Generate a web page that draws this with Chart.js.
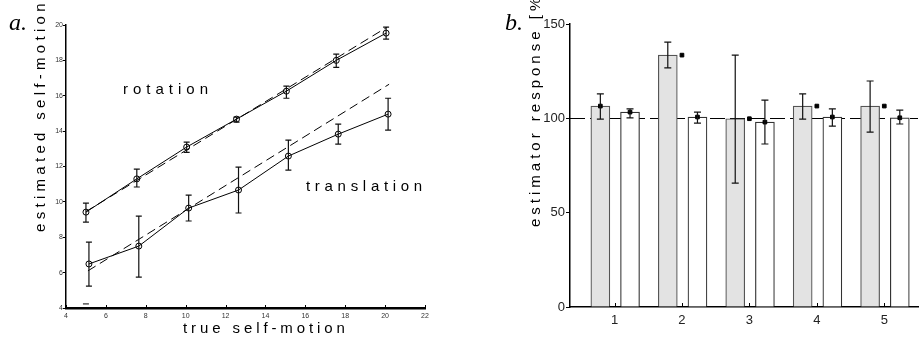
<!DOCTYPE html>
<html>
<head>
<meta charset="utf-8">
<script src="https://cdn.jsdelivr.net/npm/chart.js@4/dist/chart.umd.min.js"></script>
<style>
  html, body { margin: 0; padding: 0; background: #fff; width: 923px; height: 340px; overflow: hidden; }
  #chartA { position: absolute; left: 0; top: 0; }
  #chartB { position: absolute; left: 460px; top: 0; }
</style>
</head>
<body>
<canvas id="chartA" width="460" height="340"></canvas>
<canvas id="chartB" width="463" height="340"></canvas>
<script>
// =====================================================
//  DATA — panel a (estimated vs true self-motion)
// =====================================================
const rotX    = [5.0, 7.55, 10.05, 12.55, 15.05, 17.55, 20.05];
const rotMean = [9.42, 11.3, 13.1, 14.68, 16.26, 18.0, 19.54];
const rotLo   = [8.86, 10.84, 12.8, 14.51, 15.86, 17.6, 19.2];
const rotHi   = [9.93, 11.85, 13.38, 14.79, 16.54, 18.35, 19.88];
const rotFitX = [5.0, 20.1];
const rotFitY = [9.45, 19.88];

const trX     = [5.15, 7.65, 10.15, 12.65, 15.15, 17.65, 20.15];
const trMean  = [6.49, 7.5, 9.65, 10.67, 12.59, 13.83, 14.96];
const trLo    = [5.24, 5.75, 8.92, 9.37, 11.8, 13.27, 14.06];
const trHi    = [7.73, 9.2, 10.38, 11.97, 13.49, 14.4, 15.86];
const trFitX  = [5.1, 20.2];
const trFitY  = [6.1, 16.65];

const strayX  = [4.85, 5.15];
const strayY  = [4.23, 4.23];

const xTicksA = [4, 6, 8, 10, 12, 14, 16, 18, 20, 22];
const yTicksA = [4, 6, 8, 10, 12, 14, 16, 18, 20];

// =====================================================
//  DATA — panel b (estimator response, %)
// =====================================================
const groups   = [1, 2, 3, 4, 5];
const greyVal  = [106.5, 133.5, 99.8, 106.5, 106.5];
const greyLo   = [99.6, 126.7, 65.7, 99.6, 92.7];
const greyHi   = [113, 140.4, 133.5, 113, 119.8];
const whiteVal = [103.3, 100.7, 98, 100.7, 100.3];
const whiteLo  = [100.2, 97.5, 86.4, 95.9, 97];
const whiteHi  = [105, 103.3, 109.7, 105, 104.4];
const markX    = [0.79, 2, 3, 4, 5];
const markY    = [106.5, 133.5, 99.8, 106.5, 106.5];
const refLevel = 100;
const yTicksB  = [0, 50, 100, 150];

// offsets of the two bars around each group tick
const GREY_OFF  = -0.21;
const WHITE_OFF = 0.23;

const SANS  = '"Liberation Sans", Arial, sans-serif';
const SERIF = '"Liberation Serif", "Times New Roman", serif';

const pts = (xs, ys) => xs.map((x, i) => ({ x: x, y: ys[i] }));

// =====================================================
//  PLUGINS — texte, barres d'erreur, ticks intérieurs
// =====================================================
function drawText(ctx, t) {
  ctx.save();
  ctx.font = t.font;
  ctx.fillStyle = t.color || '#000';
  ctx.letterSpacing = (t.spacing || 0) + 'px';
  ctx.textAlign = 'left';
  ctx.textBaseline = 'alphabetic';
  ctx.translate(t.x, t.y);
  if (t.rotate) ctx.rotate(t.rotate);
  ctx.fillText(t.text, 0, 0);
  ctx.restore();
}

function textPlugin(items) {
  return {
    id: 'texts',
    afterDraw(chart) { items.forEach(t => drawText(chart.ctx, t)); }
  };
}

function errorPlugin(sets) {
  return {
    id: 'errbars',
    afterDatasetsDraw(chart) {
      const { ctx, scales: { x, y } } = chart;
      ctx.save();
      ctx.strokeStyle = '#111';
      sets.forEach(s => {
        ctx.lineWidth = s.width || 1.2;
        s.xs.forEach((xv, i) => {
          const px = x.getPixelForValue(xv);
          const top = y.getPixelForValue(s.hi[i]);
          const bot = y.getPixelForValue(s.lo[i]);
          ctx.beginPath();
          ctx.moveTo(px, top); ctx.lineTo(px, bot);
          ctx.moveTo(px - s.cap, top); ctx.lineTo(px + s.cap, top);
          ctx.moveTo(px - s.cap, bot); ctx.lineTo(px + s.cap, bot);
          ctx.stroke();
        });
      });
      ctx.restore();
    }
  };
}

function innerTickPlugin(len) {
  return {
    id: 'innerTicks',
    afterDraw(chart) {
      const { ctx, chartArea, scales: { x } } = chart;
      ctx.save();
      ctx.strokeStyle = '#000';
      ctx.lineWidth = 1;
      x.ticks.forEach(t => {
        const px = Math.round(x.getPixelForValue(t.value)) + 0.5;
        ctx.beginPath();
        ctx.moveTo(px, chartArea.bottom);
        ctx.lineTo(px, chartArea.bottom - len);
        ctx.stroke();
      });
      ctx.restore();
    }
  };
}

const refLinePlugin = {
  id: 'refLine',
  beforeDatasetsDraw(chart) {
    const { ctx, chartArea, scales: { y } } = chart;
    const py = Math.round(y.getPixelForValue(refLevel)) + 0.5;
    ctx.save();
    ctx.strokeStyle = '#000';
    ctx.lineWidth = 1.2;
    ctx.setLineDash([15, 5]);
    ctx.beginPath();
    ctx.moveTo(chartArea.left, py);
    ctx.lineTo(chartArea.right, py);
    ctx.stroke();
    ctx.restore();
  }
};

// fige la taille d'un axe (pas de marge auto pour les labels)
const fixX = h => s => { s.height = h; s.paddingLeft = 0; s.paddingRight = 0; };
const fixY = w => s => { s.width = w; s.paddingTop = 0; s.paddingBottom = 0; };

// =====================================================
//  PANEL a
// =====================================================
const solid = {
  borderColor: '#000', borderWidth: 1, tension: 0,
  pointRadius: 3, pointBorderWidth: 1,
  pointBackgroundColor: 'rgba(0,0,0,0)', pointBorderColor: '#000'
};
const dashed = {
  borderColor: '#000', borderWidth: 1, tension: 0,
  borderDash: [9, 5], pointRadius: 0
};

new Chart(document.getElementById('chartA'), {
  type: 'line',
  data: {
    datasets: [
      Object.assign({ label: 'rotation', data: pts(rotX, rotMean) }, solid),
      Object.assign({ label: 'rotation fit', data: pts(rotFitX, rotFitY) }, dashed),
      Object.assign({ label: 'translation', data: pts(trX, trMean) }, solid),
      Object.assign({ label: 'translation fit', data: pts(trFitX, trFitY) }, dashed),
      { label: 'mark', data: pts(strayX, strayY), borderColor: '#000', borderWidth: 1, pointRadius: 0 }
    ]
  },
  options: {
    responsive: false,
    animation: false,
    events: [],
    layout: { padding: { left: 0, right: 35, top: 25, bottom: 0 } },
    plugins: { legend: { display: false }, tooltip: { enabled: false } },
    scales: {
      x: {
        type: 'linear', min: 4, max: 22,
        afterBuildTicks: s => { s.ticks = xTicksA.map(v => ({ value: v })); },
        afterFit: fixX(32),
        grid: { display: false, drawTicks: false },
        border: { display: true, color: '#000', width: 2.5 },
        ticks: { padding: 4, color: '#333', font: { family: SANS, size: 7 }, maxRotation: 0, autoSkip: false }
      },
      y: {
        type: 'linear', min: 4, max: 20,
        afterBuildTicks: s => { s.ticks = yTicksA.map(v => ({ value: v })); },
        afterFit: fixY(66),
        grid: { display: true, drawOnChartArea: false, drawTicks: true, tickLength: 3, color: '#000' },
        border: { display: true, color: '#000', width: 1.5 },
        ticks: { padding: 0, color: '#333', font: { family: SANS, size: 7 } }
      }
    }
  },
  plugins: [
    errorPlugin([
      { xs: rotX, lo: rotLo, hi: rotHi, cap: 3 },
      { xs: trX,  lo: trLo,  hi: trHi,  cap: 3 }
    ]),
    innerTickPlugin(3),
    textPlugin([
      { text: 'a.', x: 9, y: 30, font: 'italic 24px ' + SERIF },
      { text: 'estimated self-motion', x: 45, y: 232, rotate: -Math.PI / 2, font: '15px ' + SANS, spacing: 4.3 },
      { text: 'true self-motion', x: 183, y: 333, font: '15px ' + SANS, spacing: 3.9 },
      { text: 'rotation', x: 123, y: 94, font: '15px ' + SANS, spacing: 5 },
      { text: 'translation', x: 306, y: 191, font: '15px ' + SANS, spacing: 4.7 }
    ])
  ]
});

// =====================================================
//  PANEL b
// =====================================================
const greyX  = groups.map(g => g + GREY_OFF);
const whiteX = groups.map(g => g + WHITE_OFF);

new Chart(document.getElementById('chartB'), {
  type: 'bar',
  data: {
    datasets: [
      { type: 'bar', label: 'grey', data: pts(greyX, greyVal), backgroundColor: '#e3e3e3',
        borderColor: '#555', borderWidth: 1.2, barThickness: 19, grouped: false, order: 3 },
      { type: 'bar', label: 'white', data: pts(whiteX, whiteVal), backgroundColor: '#fff',
        borderColor: '#333', borderWidth: 1.2, barThickness: 19, grouped: false, order: 2 },
      { type: 'scatter', label: 'grey mark', data: pts(markX, markY), pointStyle: 'rect',
        pointRadius: 2.6, pointBorderWidth: 1, backgroundColor: '#000', borderColor: '#000', order: 0 },
      { type: 'scatter', label: 'white mark', data: pts(whiteX, whiteVal), pointStyle: 'rect',
        pointRadius: 2.6, pointBorderWidth: 1, backgroundColor: '#000', borderColor: '#000', order: 0 }
    ]
  },
  options: {
    responsive: false,
    animation: false,
    events: [],
    layout: { padding: { left: 0, right: 0, top: 24, bottom: 0 } },
    plugins: { legend: { display: false }, tooltip: { enabled: false } },
    scales: {
      x: {
        type: 'linear', min: 0.34, max: 5.5, offset: false,
        afterBuildTicks: s => { s.ticks = groups.map(v => ({ value: v })); },
        afterFit: fixX(33),
        grid: { display: false, drawTicks: false, offset: false },
        border: { display: true, color: '#000', width: 1.5 },
        ticks: { padding: 6, color: '#222', font: { family: SANS, size: 13 }, maxRotation: 0, autoSkip: false }
      },
      y: {
        type: 'linear', min: 0, max: 150,
        afterBuildTicks: s => { s.ticks = yTicksB.map(v => ({ value: v })); },
        afterFit: fixY(110),
        grid: { display: true, drawOnChartArea: false, drawTicks: true, tickLength: 4, color: '#000' },
        border: { display: true, color: '#000', width: 1.5 },
        ticks: { padding: 1, color: '#222', font: { family: SANS, size: 13 } }
      }
    }
  },
  plugins: [
    refLinePlugin,
    errorPlugin([
      { xs: greyX,  lo: greyLo,  hi: greyHi,  cap: 3.5 },
      { xs: whiteX, lo: whiteLo, hi: whiteHi, cap: 3.5 }
    ]),
    innerTickPlugin(4),
    textPlugin([
      { text: 'b.', x: 45, y: 30, font: 'italic 24px ' + SERIF },
      { text: 'estimator response [%]', x: 80, y: 227, rotate: -Math.PI / 2, font: '15px ' + SANS, spacing: 4 }
    ])
  ]
});
</script>
</body>
</html>
